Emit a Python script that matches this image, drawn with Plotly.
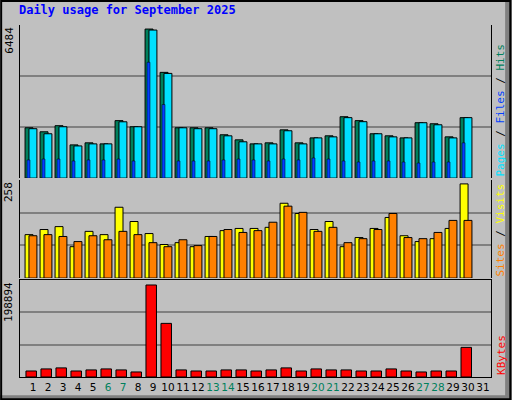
import plotly.graph_objects as go

days = list(range(1, 32))
hits = [2190, 2015, 2280, 1445, 1535, 1490, 2500, 2235, 6484, 4600, 2190, 2190, 2190, 1885, 1665,
        1490, 1535, 2100, 1535, 1750, 1840, 2670, 2500, 1930, 1840, 1750, 2410, 2365, 1795, 2630, None]
files = [2150, 1930, 2235, 1400, 1490, 1490, 2450, 2235, 6440, 4555, 2190, 2150, 2150, 1840, 1580,
         1490, 1490, 2060, 1490, 1750, 1795, 2630, 2455, 1930, 1795, 1750, 2410, 2320, 1750, 2630, None]
pages = [790, 830, 830, 745, 790, 790, 830, 745, 5040, 3200, 745, 745, 745, 790, 830,
         790, 745, 830, 790, 875, 830, 745, 700, 745, 745, 700, 655, 700, 700, 1535, None]
visits = [119, 133, 141, 86, 128, 119, 194, 155, 122, 92, 97, 86, 114, 130, 136,
          136, 139, 205, 177, 133, 155, 86, 111, 136, 166, 116, 100, 108, 136, 258, None]
sites = [116, 119, 114, 100, 116, 105, 128, 119, 97, 86, 105, 89, 114, 133, 125,
         130, 153, 197, 180, 128, 139, 97, 108, 133, 177, 111, 108, 125, 158, 158, None]
kbytes = [13000, 17500, 19700, 13000, 15300, 17500, 15300, 10900, 198894, 115900, 15300, 13000, 13000, 15300, 15300,
          13000, 15300, 19700, 13000, 17500, 15300, 15300, 13000, 13000, 17500, 13000, 10900, 13000, 13000, 64000, None]
weekend = [6, 7, 13, 14, 20, 21, 27, 28]

line = dict(color="black", width=1)
fig = go.Figure()
fig.add_trace(go.Bar(x=days, y=hits, width=0.53, offset=-0.53, marker=dict(color="#00805c", line=line), yaxis="y3"))
fig.add_trace(go.Bar(x=days, y=files, width=0.53, offset=-0.27, marker=dict(color="#00e0ff", line=line), yaxis="y3"))
fig.add_trace(go.Bar(x=days, y=pages, width=0.2, offset=-0.4, marker=dict(color="#0040ff", line=dict(color="black", width=0.5)), yaxis="y3"))
fig.add_trace(go.Bar(x=days, y=visits, width=0.53, offset=-0.53, marker=dict(color="#ffff00", line=line), yaxis="y2"))
fig.add_trace(go.Bar(x=days, y=sites, width=0.53, offset=-0.27, marker=dict(color="#ff8000", line=line), yaxis="y2"))
fig.add_trace(go.Bar(x=days, y=kbytes, width=0.7, offset=-0.47, marker=dict(color="#ff0000", line=line), yaxis="y"))

r3, r2, r1 = 6660, 269, 210000
ticktext = [f"<span style='color:#00805c'>{d}</span>" if d in weekend else str(d) for d in days]

def yax(dom, top):
    return dict(domain=dom, range=[0, top], tickvals=[top / 3, 2 * top / 3], showticklabels=False,
                gridcolor="#808080", gridwidth=1.5, zeroline=False, showline=True, linecolor="black",
                mirror=True, fixedrange=True, automargin=False)

fig.update_layout(
    width=512, height=400, margin=dict(l=20, r=21, t=25, b=23, autoexpand=False),
    paper_bgcolor="#c0c0c0", plot_bgcolor="#c0c0c0", showlegend=False, barmode="overlay",
    font=dict(family="DejaVu Sans Mono", size=11, color="black"),
    xaxis=dict(range=[0.133, 31.53], tickvals=days, ticktext=ticktext, showgrid=False, ticks="",
               showline=True, linecolor="black", mirror=True, anchor="y", fixedrange=True,
               tickangle=0, automargin=False, tickfont=dict(family="DejaVu Sans", size=10.5)),
    yaxis=yax([0, 0.276], r1),
    yaxis2=yax([0.281, 0.560], r2),
    yaxis3=yax([0.565, 1], r3),
    title=dict(text="<b>Daily usage for September 2025</b>", x=0.037, xanchor="left", y=0.985, yanchor="top",
               font=dict(family="DejaVu Sans Mono", size=12, color="#0000ff")),
)

ann = dict(xref="paper", yref="paper", textangle=-90, showarrow=False, font=dict(size=11))
fig.add_annotation(text="6484", x=-0.005, y=1, xanchor="right", yanchor="top", **ann)
fig.add_annotation(text="258", x=-0.005, y=0.560, xanchor="right", yanchor="top", **ann)
fig.add_annotation(text="198894", x=-0.005, y=0.276, xanchor="right", yanchor="top", **ann)
fig.add_annotation(text="<span style='color:#00e0ff'>Pages</span> / <span style='color:#0040ff'>Files</span> / "
                        "<span style='color:#00805c'>Hits</span>", x=1.003, y=0.565, xanchor="left", yanchor="bottom", **ann)
fig.add_annotation(text="<span style='color:#ff8000'>Sites</span> / <span style='color:#ffff00'>Visits</span>",
                   x=1.003, y=0.281, xanchor="left", yanchor="bottom", **ann)
fig.add_annotation(text="<span style='color:#ff0000'>KBytes</span>", x=1.003, y=0.0, xanchor="left", yanchor="bottom", **ann)

# bevelled frame
fig.add_shape(type="rect", xref="paper", yref="paper", x0=1.030, x1=1.045, y0=-0.066, y1=1.072,
              line_width=0, fillcolor="#808080")
fig.add_shape(type="rect", xref="paper", yref="paper", x0=-0.043, x1=1.045, y0=-0.066, y1=-0.052,
              line_width=0, fillcolor="#808080")
fig.add_shape(type="rect", xref="paper", yref="paper", x0=-0.040, x1=1.041, y0=-0.063, y1=1.068,
              line=dict(color="black", width=2))

fig.write_html("out.html", post_script="document.body.style.margin='0';",
               config={"displayModeBar": False})
